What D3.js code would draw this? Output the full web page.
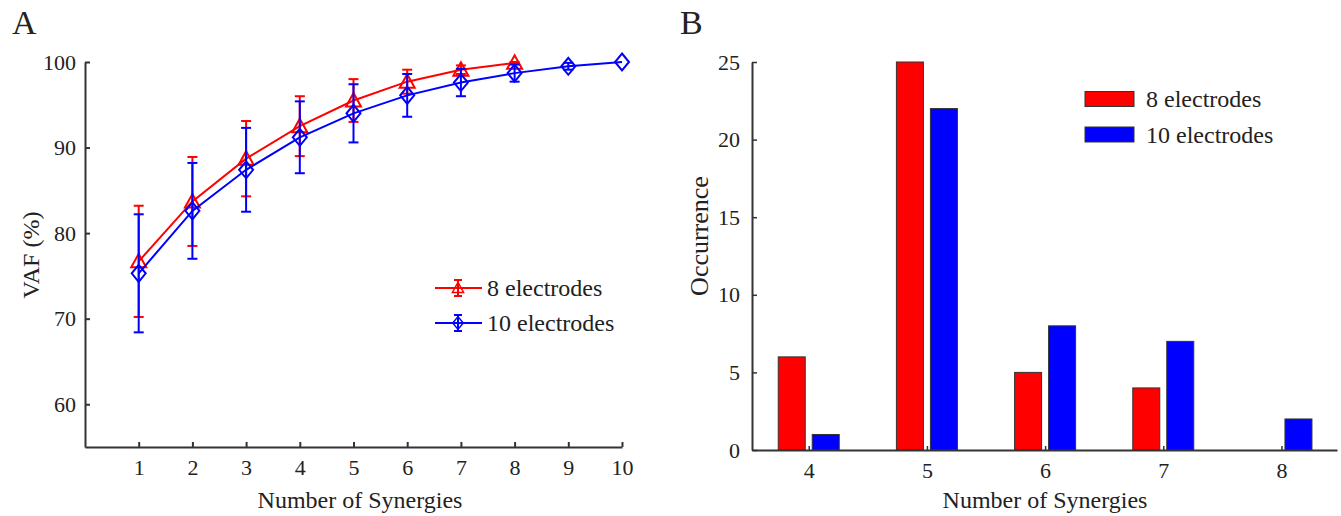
<!DOCTYPE html>
<html>
<head>
<meta charset="utf-8">
<script src="https://cdn.jsdelivr.net/npm/d3@7"></script>
<style>
  body { margin: 0; background: #fff; }
</style>
</head>
<body>
<svg id="chart" width="1341" height="516" font-family="'Liberation Serif', 'Times New Roman', serif"></svg>
<script>
// Panel A: VAF vs number of synergies
const synergies8 = [1, 2, 3, 4, 5, 6, 7, 8];
const vaf8 = [76.7, 83.7, 88.7, 92.5, 95.5, 97.7, 99.1, 99.9];
const sd8 = [6.5, 5.2, 4.4, 3.5, 2.5, 1.4, 0.5, 0.1];
const synergies10 = [1, 2, 3, 4, 5, 6, 7, 8, 9, 10];
const vaf10 = [75.3, 82.6, 87.4, 91.2, 94.0, 96.1, 97.6, 98.7, 99.5, 100];
const sd10 = [6.9, 5.6, 4.9, 4.2, 3.4, 2.5, 1.6, 1.0, 0.4, 0];
const vafTicks = [60, 70, 80, 90, 100];
const synergyTicks = [1, 2, 3, 4, 5, 6, 7, 8, 9, 10];

// Panel B: occurrence histogram
const counts = [4, 5, 6, 7, 8];
const occ8 = [6, 25, 5, 4, 0];
const occ10 = [1, 22, 8, 7, 2];
const occTicks = [0, 5, 10, 15, 20, 25];

const seriesNames = ['8 electrodes', '10 electrodes'];
const RED = '#ff0000', BLUE = '#0000ff', AXIS = '#333';
const FONT = "'Liberation Serif', 'Times New Roman', serif";

const svg = d3.select('#chart');

function styleAxis(ax, tickW) {
    ax.attr('font-family', FONT);
    ax.select('.domain').attr('stroke', AXIS).attr('stroke-width', 2);
    ax.selectAll('.tick line').attr('stroke', AXIS).attr('stroke-width', tickW);
    ax.selectAll('.tick text').attr('font-size', 22).attr('fill', '#222');
}

// ---------- Panel A ----------
const xA = d3.scaleLinear().domain([0, 10]).range([85, 622]);
const yA = d3.scaleLinear().domain([55, 100]).range([447, 62]);

const gA = svg.append('g');

const axA_y = gA.append('g')
    .attr('transform', `translate(${xA(0)},0)`)
    .call(d3.axisLeft(yA).tickValues(vafTicks).tickSizeInner(-5).tickSizeOuter(0).tickPadding(9));
const axA_x = gA.append('g')
    .attr('transform', `translate(0,${yA(55)})`)
    .call(d3.axisBottom(xA).tickValues(synergyTicks).tickSizeInner(-5).tickSizeOuter(0).tickPadding(12));
styleAxis(axA_y, 2);
styleAxis(axA_x, 2);

const triangle = 'M0,-7.5 L7.5,6 L-7.5,6 Z';
const diamond = 'M0,-8.5 L7,0 L0,8.5 L-7,0 Z';

function drawSeries(xs, ys, sds, color, marker) {
    const pts = xs.map((x, i) => ({x, y: ys[i], sd: sds[i]}));
    const line = d3.line().x(d => xA(d.x)).y(d => yA(d.y));
    gA.append('path').datum(pts)
        .attr('d', line).attr('fill', 'none')
        .attr('stroke', color).attr('stroke-width', 2);
    const eb = gA.append('g').attr('stroke', color).attr('stroke-width', 2);
    pts.filter(d => d.sd > 0).forEach(d => {
        const cx = xA(d.x);
        eb.append('line').attr('x1', cx).attr('x2', cx)
            .attr('y1', yA(d.y - d.sd)).attr('y2', yA(d.y + d.sd));
        [d.y - d.sd, d.y + d.sd].forEach(v => {
            eb.append('line').attr('x1', cx - 5).attr('x2', cx + 5)
                .attr('y1', yA(v)).attr('y2', yA(v));
        });
    });
    gA.append('g').selectAll('path').data(pts).join('path')
        .attr('d', marker)
        .attr('transform', d => `translate(${xA(d.x)},${yA(d.y)})`)
        .attr('fill', 'none').attr('stroke', color).attr('stroke-width', 2);
}

drawSeries(synergies8, vaf8, sd8, RED, triangle);
drawSeries(synergies10, vaf10, sd10, BLUE, diamond);

// legend A
const legA = gA.append('g');
[[RED, triangle, 288], [BLUE, diamond, 323]].forEach(([c, m, y], i) => {
    const g = legA.append('g').attr('stroke', c).attr('stroke-width', 2);
    g.append('line').attr('x1', 435).attr('x2', 482).attr('y1', y).attr('y2', y);
    g.append('line').attr('x1', 458).attr('x2', 458).attr('y1', y - 8).attr('y2', y + 8);
    g.append('line').attr('x1', 454).attr('x2', 462).attr('y1', y - 8).attr('y2', y - 8);
    g.append('line').attr('x1', 454).attr('x2', 462).attr('y1', y + 8).attr('y2', y + 8);
    g.append('path').attr('d', m).attr('fill', 'none')
        .attr('transform', `translate(458,${y}) scale(0.75)`);
    legA.append('text').attr('x', 487).attr('y', y).attr('dy', '0.35em')
        .attr('font-size', 24).attr('fill', '#222').text(seriesNames[i]);
});

gA.append('text').attr('transform', 'translate(31,255) rotate(-90)')
    .attr('text-anchor', 'middle').attr('dy', '0.35em').attr('font-size', 24).attr('fill', '#222').text('VAF (%)');
gA.append('text').attr('x', 360).attr('y', 508)
    .attr('text-anchor', 'middle').attr('font-size', 24).attr('fill', '#222').text('Number of Synergies');
gA.append('text').attr('x', 12).attr('y', 34).attr('font-size', 34).attr('fill', '#222').text('A');

// ---------- Panel B ----------
const xB = d3.scaleLinear().domain([3.52, 8.47]).range([752, 1337]);
const yB = d3.scaleLinear().domain([0, 25]).range([450, 62]);

const gB = svg.append('g');

const barW = 27, off = 17;
const barData = counts.flatMap((c, i) => [
    {c, v: occ8[i], dx: -off, color: RED},
    {c, v: occ10[i], dx: off, color: BLUE}
]).filter(d => d.v > 0);

gB.append('g').selectAll('rect').data(barData).join('rect')
    .attr('x', d => xB(d.c) + d.dx - barW / 2)
    .attr('y', d => yB(d.v))
    .attr('width', barW)
    .attr('height', d => yB(0) - yB(d.v))
    .attr('fill', d => d.color)
    .attr('stroke', '#333').attr('stroke-width', 1);

const axB_y = gB.append('g')
    .attr('transform', `translate(${xB(3.52)},0)`)
    .call(d3.axisLeft(yB).tickValues(occTicks).tickSizeInner(-5).tickSizeOuter(0).tickPadding(12));
const axB_x = gB.append('g')
    .attr('transform', `translate(0,${yB(0)})`)
    .call(d3.axisBottom(xB).tickValues(counts).tickFormat(d3.format('d'))
        .tickSizeInner(-4).tickSizeOuter(0).tickPadding(12));
styleAxis(axB_y, 1.5);
styleAxis(axB_x, 1.5);

// legend B
[[RED, 99], [BLUE, 134.5]].forEach(([c, y], i) => {
    gB.append('rect').attr('x', 1085).attr('y', y - 7.5).attr('width', 49).attr('height', 15)
        .attr('fill', c).attr('stroke', '#333').attr('stroke-width', 1);
    gB.append('text').attr('x', 1146).attr('y', y).attr('dy', '0.35em')
        .attr('font-size', 24).attr('fill', '#222').text(seriesNames[i]);
});

gB.append('text').attr('transform', 'translate(699,236) rotate(-90)')
    .attr('text-anchor', 'middle').attr('dy', '0.35em').attr('font-size', 26).attr('fill', '#222').text('Occurrence');
gB.append('text').attr('x', 1045).attr('y', 508)
    .attr('text-anchor', 'middle').attr('font-size', 24).attr('fill', '#222').text('Number of Synergies');
gB.append('text').attr('x', 680).attr('y', 34).attr('font-size', 34).attr('fill', '#222').text('B');
</script>
</body>
</html>
